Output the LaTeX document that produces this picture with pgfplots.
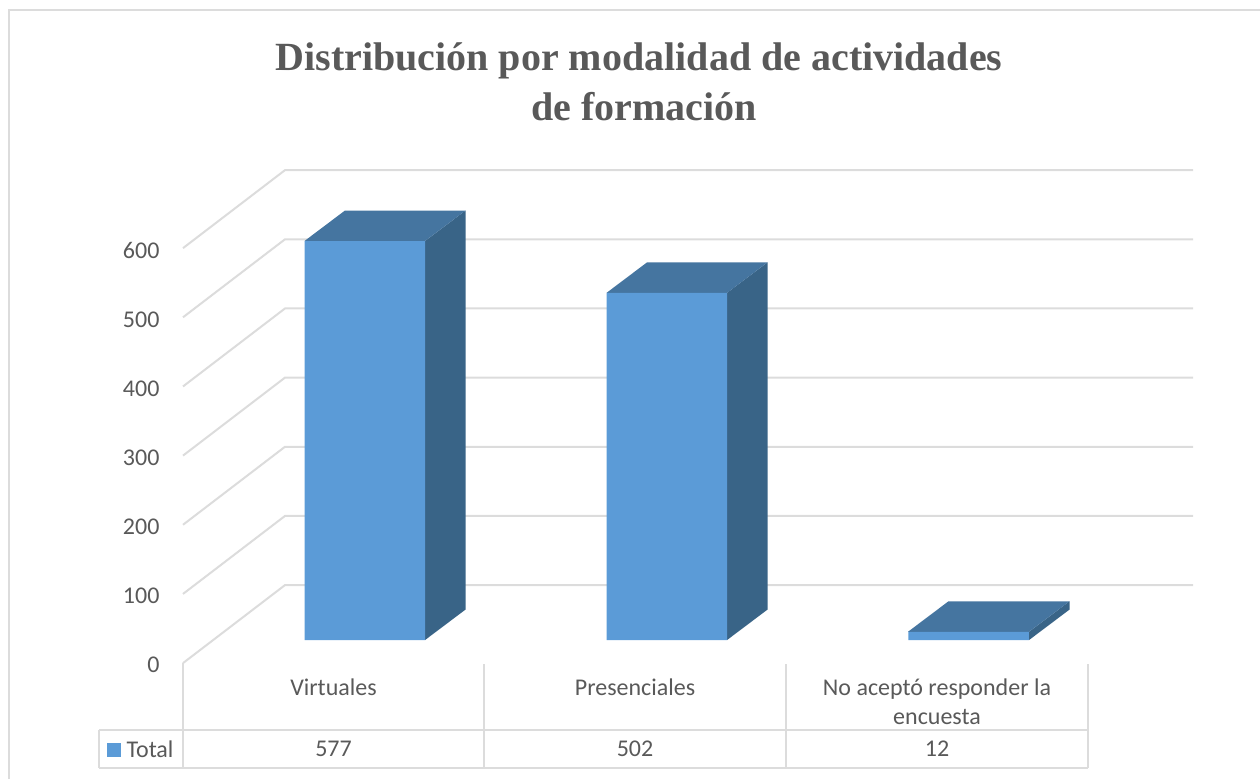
\documentclass[border=0pt]{standalone}
\usepackage{fontspec}
\usepackage{pgfplots}
\pgfplotsset{compat=1.18}
\setmainfont{Carlito}
\newfontfamily\titlefont{Liberation Serif}
\definecolor{txt}{HTML}{595959}
\definecolor{gridc}{HTML}{DCDCDC}
\definecolor{front}{HTML}{5B9BD7}
\definecolor{topf}{HTML}{4575A0}
\definecolor{sidef}{HTML}{396487}
\begin{document}
\begin{tikzpicture}
\begin{axis}[
  scale only axis, width=1260pt, height=779pt,
  xmin=0, xmax=1260, ymin=-200.9, ymax=925.5,
  axis line style={draw=none}, tick style={draw=none},
  ytick={-33.3,66.7,166.7,266.7,366.7,466.7,566.7},
  yticklabels={0,100,200,300,400,500,600},
  yticklabel style={anchor=east, xshift=163pt, yshift=-2pt, font=\fontsize{24}{26}\selectfont, text=txt},
  xtick={333.5,635,937},
  xticklabels={Virtuales,Presenciales,{No aceptó responder la\\[1pt]encuesta}},
  xticklabel style={anchor=north, yshift=104pt, align=center, font=\fontsize{24}{28}\selectfont, text=txt},
]
% frame
\addplot[gridc, line width=2pt] coordinates {(9,-200.9)(9,911)(1260,911)};
% gridlines: walls
\addplot[gridc, line width=2pt] coordinates {(183,-33.3)(285,79.5)(1193,79.5)};
\addplot[gridc, line width=2pt] coordinates {(183,66.7)(285,179.5)(1193,179.5)};
\addplot[gridc, line width=2pt] coordinates {(183,166.7)(285,279.5)(1193,279.5)};
\addplot[gridc, line width=2pt] coordinates {(183,266.7)(285,379.5)(1193,379.5)};
\addplot[gridc, line width=2pt] coordinates {(183,366.7)(285,479.5)(1193,479.5)};
\addplot[gridc, line width=2pt] coordinates {(183,466.7)(285,579.5)(1193,579.5)};
\addplot[gridc, line width=2pt] coordinates {(183,566.7)(285,679.5)(1193,679.5)};
% data table lines
\addplot[gridc, line width=2pt] coordinates {(99,-130.2)(1088,-130.2)};
\addplot[gridc, line width=2pt] coordinates {(99,-185.1)(1088,-185.1)};
\addplot[gridc, line width=2pt] coordinates {(99,-130.2)(99,-185.1)};
\addplot[gridc, line width=2pt] coordinates {(183,-33.3)(183,-185.1)};
\addplot[gridc, line width=2pt] coordinates {(484,-34.7)(484,-185.1)};
\addplot[gridc, line width=2pt] coordinates {(786,-34.7)(786,-185.1)};
\addplot[gridc, line width=2pt] coordinates {(1088,-34.7)(1088,-185.1)};
% side faces
\addplot[fill=sidef, draw=none] coordinates {(425,0)(465.5,44.1)(465.5,621.1)(425,577)} \closedcycle;
\addplot[fill=sidef, draw=none] coordinates {(727,0)(767.5,44.1)(767.5,546.1)(727,502)} \closedcycle;
\addplot[fill=sidef, draw=none] coordinates {(1029,0)(1069.5,44.1)(1069.5,56.1)(1029,12)} \closedcycle;
% top faces
\addplot[fill=topf, draw=none] coordinates {(304.5,577)(345,621.1)(465.5,621.1)(425,577)(304.5,577)};
\addplot[fill=topf, draw=none] coordinates {(606.5,502)(647,546.1)(767.5,546.1)(727,502)(606.5,502)};
\addplot[fill=topf, draw=none] coordinates {(908,12)(948.5,56.1)(1069.5,56.1)(1029,12)(908,12)};
% front faces
\addplot[ybar, bar width=120.5pt, bar shift=0pt, fill=front, draw=none] coordinates {(364.75,577)(666.75,502)(968.5,12)};
% title
\node[font=\titlefont\bfseries\fontsize{40}{50}\selectfont, text=txt, align=center] at (axis cs:639,807.5) {Distribución por modalidad de actividades\\\hspace*{10pt}de formación};
% table text
\node[font=\fontsize{24}{26}\selectfont, text=txt, anchor=west] at (axis cs:103,-157.6) {\textcolor{front}{\rule{14pt}{14pt}}\hspace{6pt}Total};
\node[font=\fontsize{24}{26}\selectfont, text=txt] at (axis cs:333.5,-157.6) {577};
\node[font=\fontsize{24}{26}\selectfont, text=txt] at (axis cs:635,-157.6) {502};
\node[font=\fontsize{24}{26}\selectfont, text=txt] at (axis cs:937,-157.6) {12};
\end{axis}
\end{tikzpicture}
\end{document}
